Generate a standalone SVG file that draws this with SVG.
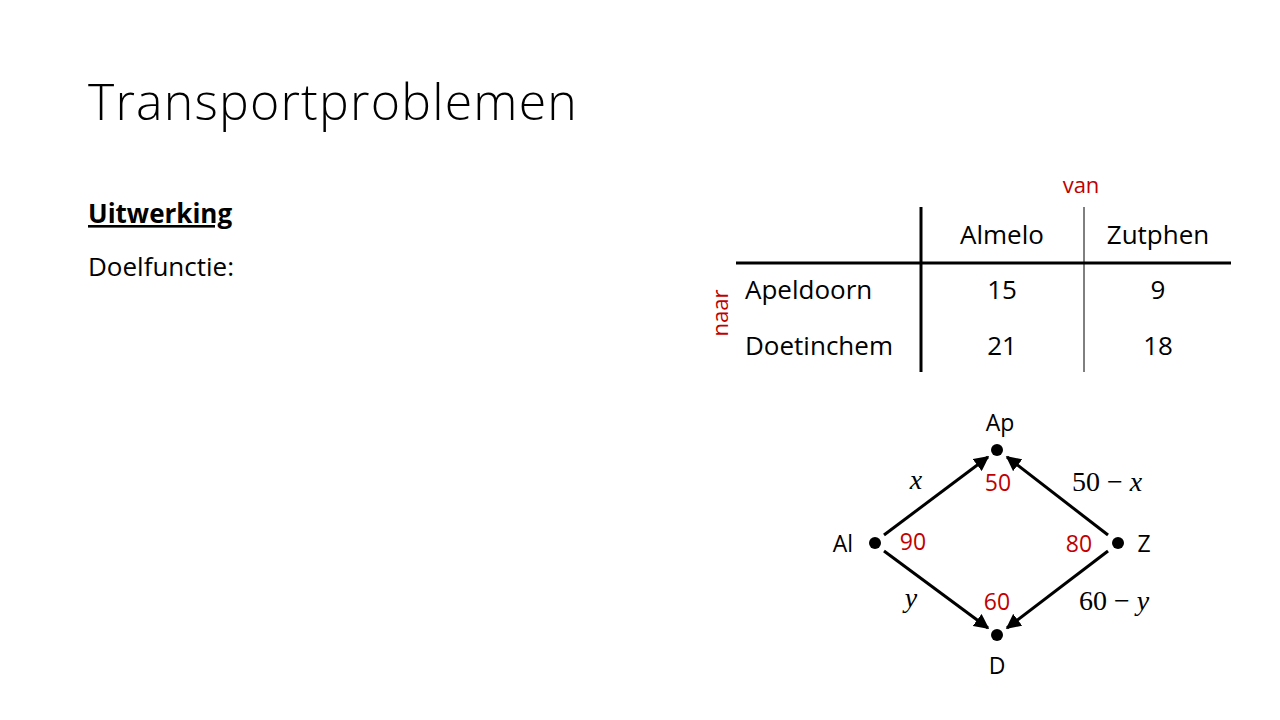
<svg xmlns="http://www.w3.org/2000/svg" width="1280" height="720" viewBox="0 0 1280 720">
<style>
text{font-family:"Open Sans","Liberation Sans",sans-serif;fill:#000}
.t{font-size:26px}
.r{fill:#c00000}
.m{font-family:"Liberation Serif",serif;font-style:italic;font-size:28px}
.n{font-family:"Liberation Serif",serif;font-size:28px}
.e{stroke:#000;stroke-width:3;marker-end:url(#a)}
</style>
<defs><marker id="a" viewBox="0 0 10 10" refX="9" refY="5" markerWidth="5" markerHeight="5" orient="auto"><path d="M0,0L10,5L0,10z" fill="#000"/></marker></defs>
<rect width="1280" height="720" fill="#fff"/>
<text x="88" y="120" font-size="50" font-weight="300" letter-spacing="1.2">Transportproblemen</text>
<text x="88" y="223" font-size="26" font-weight="bold" text-decoration="underline">Uitwerking</text>
<text x="88" y="276" class="t">Doelfunctie:</text>
<g id="table">
<text x="1081" y="193" class="r" text-anchor="middle" style="font-size:22px">van</text>
<text transform="translate(728,313) rotate(-90)" class="r" style="font-size:22px" text-anchor="middle">naar</text>
<line x1="921" y1="207" x2="921" y2="372" stroke="#000" stroke-width="3"/>
<line x1="1084" y1="207" x2="1084" y2="372" stroke="#000" stroke-width="1"/>
<line x1="736" y1="263" x2="1231" y2="263" stroke="#000" stroke-width="3"/>
<text x="1002" y="244" class="t" text-anchor="middle">Almelo</text>
<text x="1158" y="244" class="t" text-anchor="middle">Zutphen</text>
<text x="745" y="299" class="t">Apeldoorn</text>
<text x="745" y="355" class="t">Doetinchem</text>
<text x="1002" y="299" class="t" text-anchor="middle">15</text>
<text x="1158" y="299" class="t" text-anchor="middle">9</text>
<text x="1002" y="355" class="t" text-anchor="middle">21</text>
<text x="1158" y="355" class="t" text-anchor="middle">18</text>
</g>
<g id="connectors">
<line class="e" x1="884" y1="535" x2="988" y2="457"/>
<line class="e" x1="1108" y1="535" x2="1007" y2="457"/>
<line class="e" x1="884" y1="551" x2="988" y2="628"/>
<line class="e" x1="1108" y1="551" x2="1007" y2="628"/>
</g>
<g id="Ap"><circle cx="997" cy="450" r="6"/><text x="1000" y="431" text-anchor="middle" style="font-size:23px">Ap</text><text x="998" y="491" class="r" text-anchor="middle" style="font-size:23px">50</text></g>
<g id="Al"><circle cx="875" cy="543" r="6"/><text x="843" y="552" text-anchor="middle" style="font-size:23px">Al</text><text x="913" y="550" class="r" text-anchor="middle" style="font-size:23px">90</text></g>
<g id="Z"><circle cx="1118" cy="543" r="6"/><text x="1144" y="552" text-anchor="middle" style="font-size:23px">Z</text><text x="1079" y="552" class="r" text-anchor="middle" style="font-size:23px">80</text></g>
<g id="D"><circle cx="997" cy="635" r="6"/><text x="997" y="674" text-anchor="middle" style="font-size:23px">D</text><text x="997" y="610" class="r" text-anchor="middle" style="font-size:23px">60</text></g>
<text x="916" y="489" class="m" text-anchor="middle">x</text>
<text x="911" y="607" class="m" text-anchor="middle">y</text>
<text x="1072" y="491" class="n">50 − <tspan font-style="italic">x</tspan></text>
<text x="1079" y="610" class="n">60 − <tspan font-style="italic">y</tspan></text>
</svg>
